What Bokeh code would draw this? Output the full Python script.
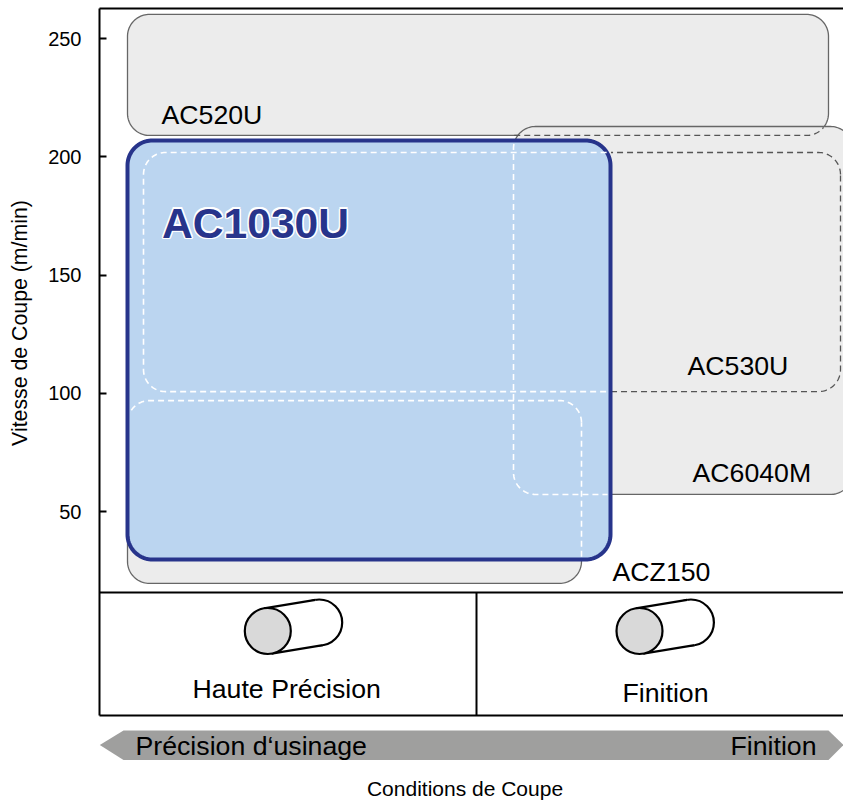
import numpy as np
from bokeh.plotting import figure
from bokeh.models import FixedTicker, LinearAxis, Range1d
from bokeh.core.properties import value
from bokeh.embed import file_html
from bokeh.resources import INLINE

# Grade application windows (speed in m/min, x in condition units = image px)
grades = ["AC520U", "AC530U", "AC6040M", "ACZ150", "AC1030U"]
x_lo = [127, 143, 513, 127, 127]
x_hi = [828, 840, 852, 581, 610]
v_lo = [209.0, 100.7, 57.2, 19.6, 29.7]
v_hi = [260.2, 201.8, 212.8, 96.9, 206.9]
y_ticks = [50, 100, 150, 200, 250]

FONT = value("Liberation Sans")
PX_PER = 2.365
def py(px):
    return 50 + (511 - px) / PX_PER

W, H = 843, 800
p = figure(width=W, height=H, output_backend="svg", toolbar_location=None,
           x_range=Range1d(0, 843), y_range=Range1d(py(800), py(0)),
           x_axis_type=None, y_axis_type=None, min_border_left=0, min_border_right=0,
           min_border_top=0, min_border_bottom=0)
p.grid.visible = False
p.outline_line_color = None
p.background_fill_color = "white"

ax = LinearAxis(fixed_location=99)
ax.ticker = FixedTicker(ticks=y_ticks)
ax.bounds = (py(715), py(8))
ax.axis_line_color = "black"
ax.axis_line_width = 2
ax.major_tick_in = 7
ax.major_tick_out = 0
ax.major_tick_line_color = "black"
ax.major_tick_line_width = 2
ax.minor_tick_line_color = None
ax.major_label_text_font = "Liberation Sans"
ax.major_label_text_font_size = "20px"
ax.major_label_text_color = "black"
ax.major_label_standoff = 18
p.add_layout(ax, "left")


def round_rect(i, r=22):
    x0, x1, y0, y1 = x_lo[i], x_hi[i], v_lo[i], v_hi[i]
    ry = r / PX_PER
    t = np.linspace(0, np.pi / 2, 24)
    xs, ys = [], []
    corners = [(x1 - r, y1 - ry, 0), (x0 + r, y1 - ry, 1), (x0 + r, y0 + ry, 2), (x1 - r, y0 + ry, 3)]
    for cx, cy, q in corners:
        a = t + q * np.pi / 2
        ax_ = cx + r * np.cos(a)
        ay_ = cy + ry * np.sin(a)
        if xs:
            xs += list(np.linspace(xs[-1], ax_[0], 300)[1:-1])
            ys += list(np.linspace(ys[-1], ay_[0], 300)[1:-1])
        xs += list(ax_)
        ys += list(ay_)
    xs += list(np.linspace(xs[-1], xs[0], 300)[1:])
    ys += list(np.linspace(ys[-1], ys[0], 300)[1:])
    return np.array(xs), np.array(ys)


def in_box(xs, ys, i):
    return (xs >= x_lo[i]) & (xs <= x_hi[i]) & (ys >= v_lo[i]) & (ys <= v_hi[i])


def runs(xs, ys, mask):
    ox, oy = [], []
    start = None
    for k, m in enumerate(list(mask) + [False]):
        if m and start is None:
            start = k
        elif not m and start is not None:
            if k - start > 1:
                ox.append(list(xs[start:k]))
                oy.append(list(ys[start:k]))
            start = None
    return ox, oy


AC520, AC530, AC6040, ACZ, BLUE = 0, 1, 2, 3, 4
GRAY_F, GRAY_L, DASH = "#ececec", "#666666", "6 4"

for i in (AC520, ACZ, AC6040):
    xs, ys = round_rect(i)
    p.patch(xs, ys, fill_color=GRAY_F, line_color=GRAY_L, line_width=1.3)

# gray dashed parts
xs, ys = round_rect(AC530)
ox, oy = runs(xs, ys, ~in_box(xs, ys, BLUE))
p.multi_line(ox, oy, line_color="#555555", line_width=1.3, line_dash=DASH)
xs, ys = round_rect(AC520)
ox, oy = runs(xs, ys, in_box(xs, ys, AC6040))
p.multi_line(ox, oy, line_color="#555555", line_width=1.3, line_dash=DASH)

# blue grade
xs, ys = round_rect(BLUE, r=25)
p.patch(xs, ys, fill_color="#bbd5f0", line_color="#27348b", line_width=4)

# white dashed parts seen through blue
for i in (AC530, ACZ, AC6040):
    xs, ys = round_rect(i)
    m = (xs > x_lo[BLUE] + 2) & (xs < x_hi[BLUE] - 2) & (ys > v_lo[BLUE] + 1) & (ys < v_hi[BLUE] - 1)
    ox, oy = runs(xs, ys, m)
    p.multi_line(ox, oy, line_color="white", line_width=1.6, line_dash=DASH)

# frame lines of the lower panel
p.line([99, 843], [py(8), py(8)], line_color="black", line_width=2)
p.line([99, 843], [py(592), py(592)], line_color="black", line_width=2)
p.line([99, 843], [py(715), py(715)], line_color="black", line_width=2)
p.line([476, 476], [py(592), py(715)], line_color="black", line_width=2)

# cylinders
R = 23
dx, dy = 51.4, -8.5
for cx in (267.3, 639):
    cy = 630.5
    L = np.hypot(dx, dy)
    nx, ny = dy / L * R, -dx / L * R
    bx, by = cx + dx, cy + dy
    p.scatter([bx], [py(by)], size=2 * R, marker="circle", fill_color="white", line_color="black", line_width=2.2)
    p.patch([cx + nx, bx + nx, bx - nx, cx - nx], [py(cy + ny), py(by + ny), py(by - ny), py(cy - ny)],
            fill_color="white", line_color=None)
    p.line([cx + nx, bx + nx], [py(cy + ny), py(by + ny)], line_color="black", line_width=2.2)
    p.line([cx - nx, bx - nx], [py(cy - ny), py(by - ny)], line_color="black", line_width=2.2)
    p.scatter([cx], [py(cy)], size=2 * R, marker="circle", fill_color="#d9d9d9", line_color="black", line_width=2.2)

# direction arrow
p.patch([99.3, 123, 828, 843, 828, 123],
        [py(744.5), py(730), py(730), py(744.5), py(759.5), py(759.5)],
        fill_color="#9f9f9e", line_color=None)


def txt(x, ypx, s, size=26.7, align="left", color="black", style="normal", **kw):
    return p.text([x], [py(ypx)], text=[s], text_font=FONT, text_font_size=f"{size}px",
                  text_align=align, text_baseline="middle", text_color=color,
                  text_font_style=style, **kw)


txt(161, 114, "AC520U")
txt(687, 365, "AC530U")
txt(692, 472, "AC6040M")
txt(612, 571, "ACZ150")
# white halo behind the bold label
for ox_, oy_ in [(-1.5, 0), (1.5, 0), (0, -1.5), (0, 1.5), (-1.1, -1.1), (1.1, -1.1), (-1.1, 1.1), (1.1, 1.1)]:
    txt(161.5, 222, "AC1030U", size=42.6, color="white", style="bold", x_offset=ox_, y_offset=oy_)
txt(161.5, 222, "AC1030U", size=42.6, color="#27348b", style="bold")
txt(192, 688, "Haute Précision")
txt(622, 692, "Finition")
txt(135, 745, "Précision d‘usinage")
txt(730, 745, "Finition")
txt(464.5, 788, "Conditions de Coupe", size=21, align="center")
txt(19, 322.5, "Vitesse de Coupe (m/min)", size=21.3, align="center", angle=np.pi / 2)

open("out.html", "w").write(file_html(p, INLINE))
